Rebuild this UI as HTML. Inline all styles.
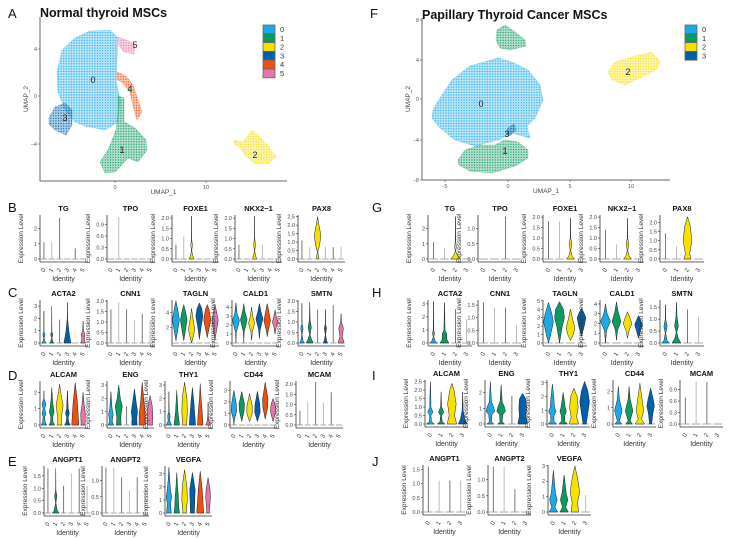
<!DOCTYPE html>
<html><head><meta charset="utf-8">
<style>
html,body{margin:0;padding:0;background:#fff;}
svg{display:block;font-family:"Liberation Sans",sans-serif;}
</style></head>
<body>
<svg id="fig" width="730" height="538" viewBox="0 0 730 538" xmlns="http://www.w3.org/2000/svg">
<defs id="defs"></defs>
</svg>
<script>
// ---------- data ----------
const colorsL = ['#1aaae6','#0b9a60','#f5e000','#0060aa','#ee5010','#e676aa'];
const clustersL = ['0','1','2','3','4','5'];
const clustersR = ['0','1','2','3'];
const umapLegendL = ['0','1','2','3','4','5'];
const umapLegendR = ['0','1','2','3'];

const rowB_titles = ['TG','TPO','FOXE1','NKX2\u22121','PAX8'];
const rowB_ymax = [2.9,1.15,2.15,2.15,2.6];
const rowB_ticks = [[0,1,2],[0,0.3,0.6,0.9],[0,0.5,1,1.5,2],[0,0.5,1,1.5,2],[0,0.5,1,1.5,2,2.5]];
const rowB_vals = [
 [1.1,1.1,2.7,0,0.7,0],
 [0,1.1,0,0,0,0],
 [0.7,1.1,[[0,0.6],[0.15,0.3],[0.4,0.04],[0.7,0.22],[0.9,0.04],[2.1,0]],0,0,0],
 [0.7,0,[[0,0.5],[0.15,0.3],[0.4,0.03],[0.7,0.25],[1.0,0.03],[2.1,0]],0.7,0,0],
 [1.1,0.7,[[0,0.25],[0.2,0.25],[0.4,0.04],[0.8,0.5],[1.4,0.85],[2.0,0.35],[2.5,0]],0.7,0.7,0.7]
];
const rowC_titles = ['ACTA2','CNN1','TAGLN','CALD1','SMTN'];
const rowC_ymax = [3.5,2.05,5.6,4.8,2.05];
const rowC_ticks = [[0,1,2,3],[0,0.5,1,1.5,2],[2,4],[0,1,2,3,4],[0,0.5,1,1.5,2]];
const rowC_vals = [
 [[[0,0.5],[0.1,0.3],[0.4,0.04],[0.7,0.3],[0.9,0.04],[2.6,0]],[[0,0.55],[0.1,0.3],[0.4,0.04],[0.7,0.3],[0.9,0.04],[3.0,0]],1.9,[[0,0.9],[0.5,0.6],[1,0.35],[2,0.05],[3.3,0]],0,[[0,0.6],[0.3,0.3],[0.7,0.5],[1,0.1],[1.8,0]]],
 [1.6,1.95,1.6,1.1,1.4,1.1],
 [[[0.3,0],[1.5,0.4],[3,0.9],[4.5,0.4],[5.5,0]],[[0.3,0],[1.5,0.4],[3,0.85],[4,0.5],[5,0]],[[0,0],[1,0.5],[1.8,0.8],[3,0.4],[4.5,0]],[[0.5,0],[2,0.4],[3.5,0.9],[4.5,0.6],[5.2,0]],[[0.7,0],[2,0.5],[3,0.9],[4.3,0.5],[5,0]],[[0.5,0],[2,0.5],[3,0.8],[4.5,0.2],[5,0]]],
 [[[0,0],[1.2,0.1],[2.5,0.9],[3.3,0.3],[4.5,0]],[[0,0],[1.2,0.1],[2.6,0.85],[3.5,0.3],[4.4,0]],[[0.3,0],[1.3,0.2],[2.2,0.8],[3.0,0.3],[4.0,0]],[[0.5,0],[1.5,0.2],[2.7,0.9],[3.5,0.4],[4.4,0]],[[0.7,0],[1.5,0.3],[2.5,0.85],[3.5,0.4],[4.4,0]],[[1,0],[1.8,0.3],[2.3,0.7],[3,0.3],[3.7,0]]],
 [[[0,0.6],[0.1,0.3],[0.4,0.04],[0.7,0.3],[0.9,0.04],[1.9,0]],[[0,0.9],[0.2,0.4],[0.4,0.08],[0.75,0.4],[1.1,0.1],[1.95,0]],1.6,[[0,0.6],[0.1,0.3],[0.4,0.04],[0.7,0.3],[0.9,0.04],[1.6,0]],1.8,[[0,0.8],[0.3,0.3],[0.7,0.6],[1,0.1],[1.4,0]]]
];
const rowD_titles = ['ALCAM','ENG','THY1','CD44','MCAM'];
const rowD_ymax = [2.7,3.3,3.3,3.8,2.15];
const rowD_ticks = [[0,1,2],[0,1,2,3],[0,1,2,3],[0,1,2,3],[0,0.5,1,1.5,2]];
const rowD_vals = [
 [[[0,0.7],[0.2,0.3],[0.5,0.2],[0.7,0.5],[1.0,0.2],[1.3,0.5],[1.6,0.05],[2.1,0]],[[0,0.7],[0.2,0.3],[0.5,0.25],[0.8,0.6],[1.1,0.4],[1.5,0.2],[2.3,0]],[[0,0.5],[0.5,0.5],[1.2,0.9],[2.0,0.3],[2.5,0]],[[0,0.7],[0.2,0.3],[0.5,0.2],[0.7,0.5],[1.0,0.2],[2.1,0]],[[0,0.9],[0.8,0.7],[1.5,0.5],[2.6,0]],[[0,0.5],[0.7,0.6],[1.2,0.3],[2.0,0]]],
 [[[0,0.7],[0.3,0.3],[0.8,0.6],[1.2,0.3],[2.5,0]],[[0,0.6],[0.6,0.5],[1.4,0.9],[2.0,0.4],[3.0,0]],1.4,[[0,0.7],[0.5,0.6],[1,0.8],[1.6,0.5],[2.7,0]],[[0,0.8],[0.8,0.8],[1.5,0.5],[3.2,0]],[[0,0.6],[0.8,0.7],[1.5,0.5],[2.2,0]]],
 [[[0,0.7],[0.3,0.2],[0.7,0.3],[1,0.05],[2.5,0]],[[0,0.7],[0.5,0.5],[1,0.3],[2.6,0]],[[0,0.5],[1,0.7],[2,0.6],[3.2,0]],[[0,0.8],[0.8,0.6],[1.6,0.4],[2.8,0]],[[0,0.7],[1,0.5],[2,0.2],[3.1,0]],[[0,0.6],[0.3,0.2],[0.8,0.05],[1.7,0]]],
 [[[0,0],[0.5,0.15],[1.2,0.7],[1.8,0.6],[3.0,0]],[[0.3,0],[1.2,0.6],[1.8,0.7],[2.9,0]],[[0.3,0],[1,0.7],[1.6,0.7],[2.7,0]],[[0.3,0],[1.1,0.7],[1.8,0.6],[2.9,0]],[[0.5,0],[1.5,0.6],[2.2,0.7],[3.7,0]],[[0.3,0],[1.2,0.7],[1.8,0.5],[2.3,0]]],
 [0.7,1.1,2.1,1.1,1.6,0]
];
const rowE_titles = ['ANGPT1','ANGPT2','VEGFA'];
const rowE_ymax = [1.9,1.45,3.6];
const rowE_ticks = [[0,0.5,1,1.5],[0,0.5,1],[0,1,2,3]];
const rowE_vals = [
 [1.8,[[0,0.9],[0.1,0.4],[0.4,0.04],[0.7,0.3],[0.9,0.04],[1.8,0]],1.1,1.6,1.8,1.1],
 [1.4,1.4,1.1,0.7,1.1,0.7],
 [[[0,0.6],[0.7,0.4],[1.2,0.7],[1.8,0.4],[2.5,0.2],[3.5,0]],[[0,0.7],[0.5,0.5],[1.3,0.4],[2,0.2],[3.1,0]],[[0,0.4],[1.0,0.7],[2,0.6],[3.3,0]],[[0,0.5],[1,0.6],[1.8,0.7],[3.1,0]],[[0,0.9],[0.8,0.7],[1.8,0.5],[3.2,0]],[[0,0.3],[1.2,0.6],[1.8,0.5],[2.7,0]]]
];
const rowG_titles = ['TG','TPO','FOXE1','NKX2\u22121','PAX8'];
const rowG_ymax = [2.9,1.45,2.1,2.1,2.4];
const rowG_ticks = [[0,1,2],[0,0.5,1],[0,0.5,1,1.5,2],[0,0.5,1,1.5,2],[0,0.5,1,1.5,2]];
const rowG_vals = [
 [1.1,0.7,[[0,0.9],[0.2,0.4],[0.5,0.04],[0.8,0.15],[1.2,0.04],[2.8,0]],0],
 [0,0,1.4,0],
 [1.8,1.8,[[0,0.7],[0.15,0.3],[0.4,0.04],[0.7,0.25],[1,0.04],[1.95,0]],0],
 [1.4,0.7,[[0,0.7],[0.15,0.3],[0.4,0.04],[0.7,0.25],[1,0.04],[1.95,0]],0],
 [1.4,0.7,[[0,0.6],[0.3,0.4],[1,0.8],[1.8,0.5],[2.3,0]],0]
];
const rowH_titles = ['ACTA2','CNN1','TAGLN','CALD1','SMTN'];
const rowH_ymax = [3.3,1.7,5.1,4.4,1.8];
const rowH_ticks = [[0,1,2,3],[0,0.5,1,1.5],[0,1,2,3,4,5],[0,1,2,3,4],[0,0.5,1,1.5]];
const rowH_vals = [
 [[[0,0.7],[0.15,0.3],[0.5,0.04],[0.7,0.2],[1,0.04],[3.2,0]],[[0,0.8],[0.3,0.4],[0.7,0.4],[1,0.1],[3.1,0]],2.6,1.8],
 [1.6,1.4,1.4,0.7],
 [[[0,0],[1,0.4],[2.5,0.9],[3.5,0.6],[4.8,0]],[[0,0],[2,0.5],[3,0.9],[4,0.7],[4.9,0]],[[0.3,0],[1,0.5],[1.8,0.8],[2.8,0.4],[4,0]],[[0.8,0],[2,0.5],[3,0.8],[3.5,0.5],[4.1,0]]],
 [[[0,0],[1.3,0.2],[2.2,0.9],[3,0.3],[4,0]],[[0.3,0],[1.3,0.2],[2.2,0.8],[3.2,0.3],[4.2,0]],[[0.5,0],[1.3,0.3],[2,0.8],[3.2,0]],[[0.5,0],[1.3,0.4],[1.9,0.7],[2.8,0]]],
 [[[0,0.7],[0.1,0.3],[0.4,0.04],[0.7,0.3],[1,0.04],[1.6,0]],[[0,0.8],[0.2,0.3],[0.45,0.05],[0.7,0.35],[1.1,0.1],[1.7,0]],1.4,1.1]
];
const rowI_titles = ['ALCAM','ENG','THY1','CD44','MCAM'];
const rowI_ymax = [2.6,2.8,3.2,2.7,1.15];
const rowI_ticks = [[0,0.5,1,1.5,2,2.5],[0,1,2],[0,1,2,3],[0,1,2],[0,0.3,0.6,0.9]];
const rowI_vals = [
 [[[0,0.7],[0.15,0.2],[0.5,0.1],[0.7,0.5],[1,0.1],[1.4,0.1],[2.5,0]],[[0,0.7],[0.15,0.2],[0.5,0.1],[0.7,0.5],[1,0.1],[1.9,0]],[[0,0.9],[0.5,0.5],[1.2,0.8],[2,0.4],[2.4,0]],[[0,0.8],[0.3,0.4],[0.8,0.1],[1.9,0]]],
 [[[0,0.6],[0.15,0.2],[0.6,0.3],[0.8,0.8],[1.1,0.6],[1.4,0.2],[2.7,0]],[[0,0.6],[0.15,0.2],[0.6,0.3],[0.8,0.8],[1.1,0.6],[1.4,0.2],[2.5,0]],1.8,[[0,0.9],[0.5,0.6],[1,0.7],[1.6,0.6],[1.95,0]]],
 [[[0,0.8],[0.2,0.3],[0.6,0.3],[0.9,0.7],[1.2,0.4],[1.8,0.3],[2.9,0]],[[0,0.8],[0.2,0.3],[0.6,0.3],[0.9,0.6],[1.2,0.4],[2.3,0]],[[0,0.9],[0.5,0.5],[1.2,0.8],[2,0.6],[2.6,0]],[[0,0.3],[0.8,0.6],[1.6,0.9],[2.4,0.6],[3.1,0]]],
 [[[0,0.6],[0.2,0.2],[0.8,0.7],[1.1,0.5],[1.5,0.2],[2.3,0]],[[0,0.6],[0.2,0.2],[0.8,0.7],[1.1,0.5],[1.5,0.2],[2.3,0]],[[0,0.9],[0.3,0.3],[0.8,0.7],[1.3,0.5],[2.5,0]],[[0,0.2],[0.6,0.4],[1.1,0.7],[1.5,0.5],[2.2,0]]],
 [0.7,1.1,1.1,0]
];
const rowJ_titles = ['ANGPT1','ANGPT2','VEGFA'];
const rowJ_ymax = [1.65,1.45,3.05];
const rowJ_ticks = [[0,0.5,1,1.5],[0,0.5,1],[0,1,2,3]];
const rowJ_vals = [
 [1.6,1.1,1.1,1.1],
 [1.4,1.4,0.7,0],
 [[[0,0.8],[0.3,0.3],[0.8,0.7],[1.2,0.4],[2.7,0]],[[0,0.8],[0.3,0.3],[0.8,0.7],[1.2,0.4],[2.4,0]],[[0,0.7],[0.6,0.5],[1.3,0.9],[2.2,0.5],[3,0]],1.1]
];

// ---------- drawing ----------
const NS='http://www.w3.org/2000/svg';
const svg=document.getElementById('fig');
function el(tag,attrs,parent){const e=document.createElementNS(NS,tag);for(const k in attrs)e.setAttribute(k,attrs[k]);(parent||svg).appendChild(e);return e;}
function txt(s,attrs,parent){const e=el('text',attrs,parent);e.textContent=s;return e;}
function fmt(v,ticks){const dec=ticks.some(t=>Math.round(t)!==t)?1:0;return v.toFixed(dec);}

function panel(name,ax,top,bottom,w,ymax,ticks,title,vals,clusters,colors){
  const g=el('g',{});
  
  
  const y=v=>bottom-3-(v/ymax)*(bottom-3-top);
  const n=clusters.length, step=w/n, hwMax=step*0.5;
  const xc=i=>ax+step*(i+0.5);
  const t=txt(title,{x:ax+w/2,y:top-4,'text-anchor':'middle','font-size':7.5,'font-weight':'bold',fill:'#111'},g);
  
  
  const yl=txt('Expression Level',{x:0,y:0,transform:`translate(${ax-17},${(top+bottom)/2}) rotate(-90)`,'text-anchor':'middle','font-size':6.5,fill:'#333'},g);
  
  
  ticks.forEach(tv=>{
    el('line',{x1:ax-2,x2:ax,y1:y(tv),y2:y(tv),stroke:'#333','stroke-width':0.6},g);
    const tl=txt(fmt(tv,ticks),{x:ax-3,y:y(tv)+2,'text-anchor':'end','font-size':5.5,fill:'#444'},g);
    
    
  });
  vals.forEach((v,i)=>{
    const cx=xc(i);
    el('line',{x1:cx-step*0.4,x2:cx+step*0.4,y1:y(0),y2:y(0),stroke:'#aaa','stroke-width':1},g);
    if(typeof v==='number'){
      if(v>0){const l=el('line',{x1:cx,x2:cx,y1:y(0),y2:y(v),stroke:i%2?'#bbb':'#777','stroke-width':1},g);
        
        }
    } else {
      const right=v.map(p=>`${(cx+p[1]*hwMax).toFixed(2)},${y(p[0]).toFixed(2)}`);
      const left=v.slice().reverse().map(p=>`${(cx-p[1]*hwMax).toFixed(2)},${y(p[0]).toFixed(2)}`);
      const pth=el('polygon',{points:right.concat(left).join(' '),fill:colors[i],stroke:'#222','stroke-width':0.5,'stroke-linejoin':'round'},g);
      
      
    }
    const cl=txt(clusters[i],{x:0,y:0,transform:`translate(${cx+1},${bottom+9}) rotate(-60)`,'text-anchor':'middle','font-size':6,fill:'#333'},g);
    
    
  });
  el('line',{x1:ax,x2:ax,y1:top,y2:bottom,stroke:'#333','stroke-width':0.8},g);
  el('line',{x1:ax,x2:ax+w,y1:bottom,y2:bottom,stroke:'#333','stroke-width':0.8},g);
  const xl=txt('Identity',{x:ax+w/2,y:bottom+19,'text-anchor':'middle','font-size':7,fill:'#333'},g);
  
  
}
function row(axes,top,bottom,w,ymaxs,tickss,titles,valss,clusters,colors){
  axes.forEach((ax,k)=>panel('violin-panel-'+titles[k].toLowerCase(),ax,top,bottom,w,ymaxs[k],tickss[k],titles[k],valss[k],clusters,colors));
}
row([40,107,172,235,298],215,262,47,rowB_ymax,rowB_ticks,rowB_titles,rowB_vals,clustersL,colorsL);
row([40,107,172,232,298],300,346,47,rowC_ymax,rowC_ticks,rowC_titles,rowC_vals,clustersL,colorsL);
row([40,107,165,230,296],381,428,47,rowD_ymax,rowD_ticks,rowD_titles,rowD_vals,clustersL,colorsL);
row([44,102,165],466,516,47,rowE_ymax,rowE_ticks,rowE_titles,rowE_vals,clustersL,colorsL);
row([428,478,543,600,660],215,262,44,rowG_ymax,rowG_ticks,rowG_titles,rowG_vals,clustersR,colorsL);
row([428,478,543,600,660],300,346,44,rowH_ymax,rowH_ticks,rowH_titles,rowH_vals,clustersR,colorsL);
row([425,485,547,613,680],380,427,43,rowI_ymax,rowI_ticks,rowI_titles,rowI_vals,clustersR,colorsL);
row([423,488,548],465,515,43,rowJ_ymax,rowJ_ticks,rowJ_titles,rowJ_vals,clustersR,colorsL);

[['A',8,18],['B',8,212],['C',8,297],['D',8,380],['E',8,466],['F',370,18],['G',372,212],['H',372,297],['I',372,380],['J',372,466]].forEach(a=>{
  const t=txt(a[0],{x:a[1],y:a[2],'font-size':13,fill:'#111'});
  
  
});

const defs=document.getElementById('defs');
colorsL.forEach((c,i)=>{
  const p=el('pattern',{id:'dots'+i,patternUnits:'userSpaceOnUse',width:2.6,height:2.6},defs);
  el('rect',{x:0,y:0,width:2.6,height:2.6,fill:c,'fill-opacity':0.3},p);
  el('circle',{cx:1.3,cy:1.3,r:0.7,fill:c},p);
});
function umap(name,blobs,labels,ax,ay,axEnd,ayTop,xt,yt,legend,lx,ly){
  const g=el('g',{});
  
  
  blobs.forEach(b=>{
    const p=el('polygon',{points:b[1].map(q=>q.join(',')).join(' '),fill:`url(#dots${b[0]})`,'stroke':colorsL[b[0]],'stroke-width':0.8,'stroke-opacity':0.3,'stroke-linejoin':'round'},g);
    
    
  });
  labels.forEach(l=>{const t=txt(l[0],{x:l[1],y:l[2],'font-size':9,fill:'#222','text-anchor':'middle'},g);
    
    });
  el('line',{x1:ax,x2:ax,y1:ayTop,y2:ay,stroke:'#666','stroke-width':1},g);
  el('line',{x1:ax,x2:axEnd,y1:ay,y2:ay,stroke:'#666','stroke-width':1},g);
  xt.forEach(t=>{el('line',{x1:t[1],x2:t[1],y1:ay,y2:ay+2,stroke:'#555','stroke-width':0.6},g);
    const e=txt(t[0],{x:t[1],y:ay+8,'font-size':5.5,fill:'#555','text-anchor':'middle'},g);
    
    });
  yt.forEach(t=>{el('line',{x1:ax-2,x2:ax,y1:t[1],y2:t[1],stroke:'#555','stroke-width':0.6},g);
    const e=txt(t[0],{x:ax-3,y:t[1]+2,'font-size':5.5,fill:'#555','text-anchor':'end'},g);
    
    });
  const xl=txt('UMAP_1',{x:(ax+axEnd)/2,y:ay+13,'font-size':6.5,fill:'#444','text-anchor':'middle'},g);
  
  
  const yl=txt('UMAP_2',{x:0,y:0,transform:`translate(${ax-12},${(ay+ayTop)/2}) rotate(-90)`,'font-size':6.5,fill:'#444','text-anchor':'middle'},g);
  
  
  legend.forEach((s,i)=>{
    const r=el('rect',{x:lx,y:ly+i*8.8,width:12,height:8.8,fill:colorsL[i],stroke:'#666','stroke-width':0.8},g);
    
    
    const t=txt(s,{x:lx+17,y:ly+i*8.8+7,'font-size':7.5,fill:'#333'},g);
    
    
  });
}
umap('umap-normal',[
 [0,[[57,72],[62,50],[75,38],[90,31],[110,30],[118,38],[117,60],[116,80],[120,100],[118,122],[105,130],[85,126],[75,122],[65,110],[58,92]]],
 [3,[[49,118],[55,107],[65,103],[72,110],[72,125],[66,135],[55,130],[49,124]]],
 [1,[[118,96],[124,98],[124,122],[135,128],[146,140],[147,150],[138,162],[128,158],[115,172],[105,173],[100,162],[108,150],[116,130],[118,112]]],
 [4,[[117,72],[126,76],[133,85],[139,103],[142,112],[137,120],[133,106],[130,92],[122,82],[117,80]]],
 [5,[[118,37],[126,40],[135,44],[134,54],[124,52],[119,46]]],
 [2,[[234,140],[243,142],[252,130],[258,135],[270,148],[276,157],[268,164],[255,164],[246,156],[240,148],[234,144]]]
],[['0',93,83],['5',135,48],['4',130,92],['3',65,121],['1',122,153],['2',255,158]],
 40,181,287,17,[['0',115],['10',206]],[['4',49],['0',96],['\u22124',144]],umapLegendL,263,25);
const tA=txt('Normal thyroid MSCs',{x:40,y:17,'font-size':12.5,'font-weight':'bold',fill:'#111'});



umap('umap-cancer',[
 [0,[[433,110],[440,98],[452,80],[470,66],[498,58],[512,62],[528,70],[540,85],[543,100],[535,118],[527,126],[530,138],[512,133],[498,140],[475,146],[455,140],[440,128],[432,118]]],
 [1,[[458,160],[465,150],[480,145],[495,145],[505,140],[518,142],[528,150],[528,158],[515,166],[492,173],[470,171],[459,165]]],
 [1,[[497,30],[505,25],[515,32],[525,40],[526,46],[510,50],[500,48],[496,40]]],
 [3,[[508,128],[514,124],[516,130],[510,136],[506,134]]],
 [2,[[608,72],[615,62],[635,56],[652,52],[660,62],[656,70],[640,78],[625,85],[612,80]]]
],[['0',481,107],['3',507,137],['1',505,154],['2',628,75]],
 422,180,670,18,[['-5',445],['0',508],['5',570],['10',631]],[['8',20],['4',60],['0',99],['\u22124',140],['\u22128',180]],umapLegendR,685,25);
const tF=txt('Papillary Thyroid Cancer MSCs',{x:422,y:19,'font-size':12.5,'font-weight':'bold',fill:'#111'});


</script>
</body></html>
